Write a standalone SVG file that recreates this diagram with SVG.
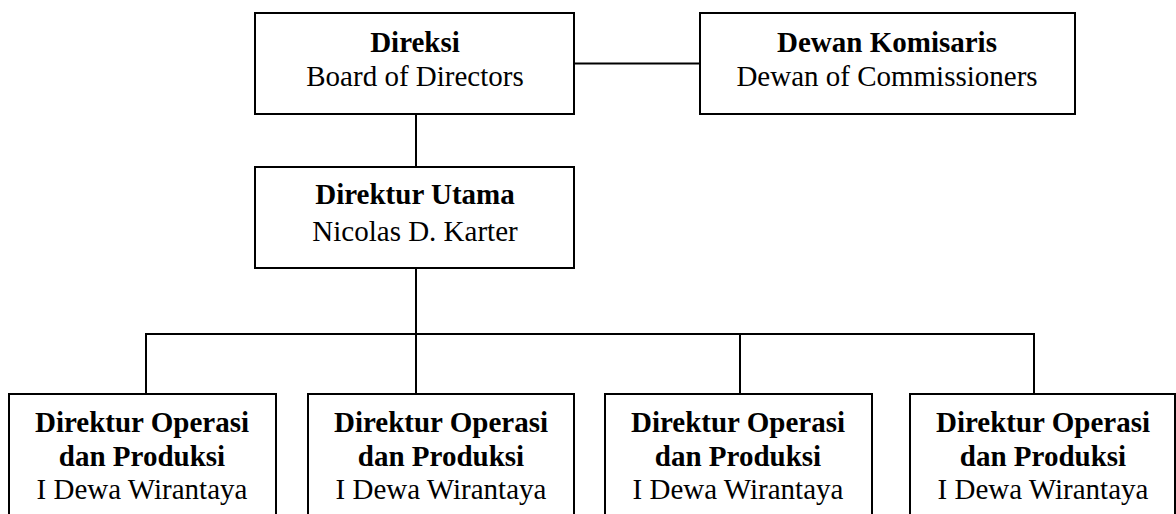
<svg xmlns="http://www.w3.org/2000/svg" width="1176" height="514" viewBox="0 0 1176 514">
  <style>
    .box { fill: #ffffff; stroke: #000000; stroke-width: 2; }
    .wire { fill: none; stroke: #000000; stroke-width: 2; }
    text { font-family: "Liberation Serif", "Times New Roman", serif; font-size: 29px; fill: #000000; text-anchor: middle; }
    .b { font-weight: bold; }
  </style>
  <rect width="1176" height="514" fill="#ffffff"/>

  <!-- connectors -->
  <g id="connectors">
    <line class="wire" x1="574" y1="63.5" x2="700" y2="63.5"/>
    <line class="wire" x1="416" y1="114" x2="416" y2="167"/>
    <line class="wire" x1="416" y1="268" x2="416" y2="334"/>
    <line class="wire" x1="145" y1="334" x2="1035" y2="334"/>
    <line class="wire" x1="146" y1="334" x2="146" y2="394"/>
    <line class="wire" x1="416" y1="334" x2="416" y2="394"/>
    <line class="wire" x1="740" y1="334" x2="740" y2="394"/>
    <line class="wire" x1="1034" y1="333" x2="1034" y2="394"/>
  </g>

  <g id="direksi">
    <rect class="box" x="255" y="13" width="319" height="101"/>
    <text class="b" x="415" y="52">Direksi</text>
    <text x="415" y="86">Board of Directors</text>
  </g>

  <g id="dewan-komisaris">
    <rect class="box" x="700" y="13" width="375" height="101"/>
    <text class="b" x="887" y="52">Dewan Komisaris</text>
    <text x="887" y="86">Dewan of Commissioners</text>
  </g>

  <g id="direktur-utama">
    <rect class="box" x="255" y="167" width="319" height="101"/>
    <text class="b" x="415" y="204">Direktur Utama</text>
    <text x="415" y="241">Nicolas D. Karter</text>
  </g>

  <g id="direktur-operasi-1">
    <rect class="box" x="9" y="394" width="267" height="130"/>
    <text class="b" x="142" y="432">Direktur Operasi</text>
    <text class="b" x="142" y="466">dan Produksi</text>
    <text x="142" y="499">I Dewa Wirantaya</text>
  </g>

  <g id="direktur-operasi-2">
    <rect class="box" x="308" y="394" width="266" height="130"/>
    <text class="b" x="441" y="432">Direktur Operasi</text>
    <text class="b" x="441" y="466">dan Produksi</text>
    <text x="441" y="499">I Dewa Wirantaya</text>
  </g>

  <g id="direktur-operasi-3">
    <rect class="box" x="605" y="394" width="267" height="130"/>
    <text class="b" x="738" y="432">Direktur Operasi</text>
    <text class="b" x="738" y="466">dan Produksi</text>
    <text x="738" y="499">I Dewa Wirantaya</text>
  </g>

  <g id="direktur-operasi-4">
    <rect class="box" x="910" y="394" width="265" height="130"/>
    <text class="b" x="1043" y="432">Direktur Operasi</text>
    <text class="b" x="1043" y="466">dan Produksi</text>
    <text x="1043" y="499">I Dewa Wirantaya</text>
  </g>
</svg>
